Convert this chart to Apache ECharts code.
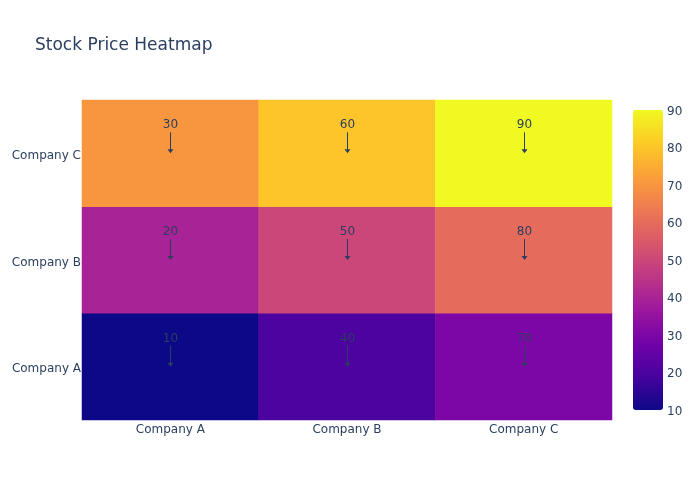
<!DOCTYPE html>
<html>
<head>
<meta charset="utf-8">
<script src="https://cdn.jsdelivr.net/npm/echarts@6/dist/echarts.min.js"></script>
<style>html,body{margin:0;padding:0;background:#fff}#c{width:700px;height:500px}</style>
</head>
<body>
<div id="c"></div>
<script>
var xCategories = ['Company A', 'Company B', 'Company C'];
var yCategories = ['Company A', 'Company B', 'Company C'];
// heatmap colour values, one array per y row, across x categories
var zRowCompanyA = [10, 20, 30];
var zRowCompanyB = [40, 50, 60];
var zRowCompanyC = [70, 80, 90];
// annotation labels, one array per y row, across x categories
var labelRowCompanyA = [10, 40, 70];
var labelRowCompanyB = [20, 50, 80];
var labelRowCompanyC = [30, 60, 90];
var colorbarTicks = [10, 20, 30, 40, 50, 60, 70, 80, 90];
var plasma = ['#0d0887', '#46039f', '#7201a8', '#9c179e', '#bd3786', '#d8576b', '#ed7953', '#fb9f3a', '#fdca26', '#f0f921'];

var zRows = [zRowCompanyA, zRowCompanyB, zRowCompanyC];
var labelRows = [labelRowCompanyA, labelRowCompanyB, labelRowCompanyC];
var data = [], labels = [];
zRows.forEach(function (row, yi) {
  row.forEach(function (v, xi) { data.push([xi, yi, v]); });
});
labelRows.forEach(function (row, yi) {
  row.forEach(function (v, xi) { labels.push([xi, yi, v]); });
});

var FONT = '"DejaVu Sans", Verdana, sans-serif';
var TXT = '#2a3f5f';

var chart = echarts.init(document.getElementById('c'), null, {renderer: 'canvas'});
chart.setOption({
  backgroundColor: '#fff',
  animation: false,
  title: {
    text: 'Stock Price Heatmap', left: 35, top: 37, padding: 0,
    textStyle: {fontFamily: FONT, fontSize: 17, fontWeight: 'normal', color: TXT}
  },
  grid: [
    {left: 82, right: 88, top: 100, bottom: 80},
    {left: 633, width: 30, top: 110, height: 300}
  ],
  xAxis: [
    {type: 'category', data: xCategories, gridIndex: 0,
     axisLine: {show: false}, axisTick: {show: false}, splitLine: {show: false},
     axisLabel: {color: TXT, fontFamily: FONT, fontSize: 12, margin: 4}},
    {type: 'value', gridIndex: 1, show: false, min: 0, max: 1}
  ],
  yAxis: [
    {type: 'category', data: yCategories, gridIndex: 0,
     axisLine: {show: false}, axisTick: {show: false}, splitLine: {show: false},
     axisLabel: {color: TXT, fontFamily: FONT, fontSize: 12, margin: 1,
       formatter: '{v|{value}}',
       rich: {v: {color: TXT, fontFamily: FONT, fontSize: 12, padding: [5, 0, 0, 0]}}}},
    {type: 'value', gridIndex: 1, position: 'right', min: colorbarTicks[0], max: colorbarTicks[colorbarTicks.length - 1], interval: 10,
     axisLine: {show: false}, axisTick: {show: false}, splitLine: {show: false},
     axisLabel: {color: TXT, fontFamily: FONT, fontSize: 12, margin: 4,
       formatter: '{v|{value}}',
       rich: {v: {color: TXT, fontFamily: FONT, fontSize: 12, padding: [3, 0, 0, 0]}}}}
  ],
  visualMap: {
    type: 'continuous', min: 10, max: 90, calculable: false, hoverLink: false,
    seriesIndex: 0, orient: 'vertical', left: 633, top: 110, padding: 0,
    itemWidth: 30, itemHeight: 300,
    inRange: {color: plasma}
  },
  series: [
    {
      type: 'heatmap', xAxisIndex: 0, yAxisIndex: 0, data: data,
      itemStyle: {borderWidth: 0},
      emphasis: {disabled: true}
    },
    {
      type: 'custom', xAxisIndex: 0, yAxisIndex: 0, data: labels, z: 10,
      renderItem: function (params, api) {
        var p = api.coord([api.value(0), api.value(1)]);
        var x = Math.round(p[0]) + 0.5, y = p[1];
        return {
          type: 'group',
          children: [
            {type: 'text', style: {text: String(api.value(2)), x: x, y: y - 28, align: 'center', verticalAlign: 'middle',
              fill: TXT, font: '12px ' + FONT}},
            {type: 'line', shape: {x1: x, y1: y - 21, x2: x, y2: y - 3}, style: {stroke: TXT, lineWidth: 1}},
            {type: 'polygon', shape: {points: [[x - 3, y - 4], [x + 3, y - 4], [x, y]]}, style: {fill: TXT}}
          ]
        };
      }
    }
  ]
});
</script>
</body>
</html>
